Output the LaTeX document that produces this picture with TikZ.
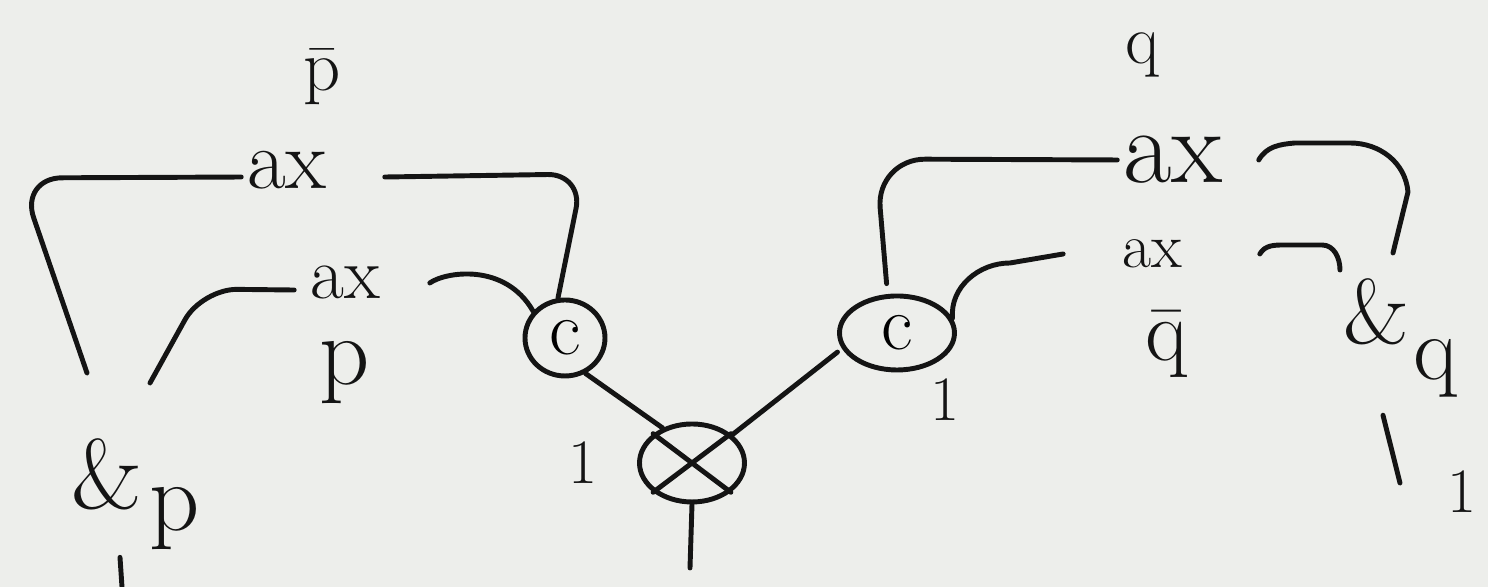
\documentclass[tikz,border=0pt]{standalone}
\usetikzlibrary{positioning, shapes.geometric, calc}
\definecolor{paper}{HTML}{EDEEEB}
\definecolor{ink}{HTML}{141414}

\begin{document}
\begin{tikzpicture}[
  x=1cm, y=1cm,
  line width=1.4pt, line cap=round, line join=round,
  wire/.style = {draw=ink, line width=1.4pt},
  lbl/.style  = {text=ink, inner sep=1pt, anchor=center,
                 font=\fontsize{24}{28}\selectfont},
  ctr/.style  = {draw=ink, line width=1.4pt, ellipse, inner sep=0pt,
                 font=\fontsize{22}{26}\selectfont},
  tns/.style  = {draw=ink, line width=1.4pt, ellipse, inner sep=0pt,
                 minimum width=1.05cm, minimum height=0.78cm},
  one/.style  = {text=ink, inner sep=1pt, font=\fontsize{18}{22}\selectfont}
]
\fill[paper] (0,0) rectangle (14.88,5.87);
\useasboundingbox (0,0) rectangle (14.88,5.87);

% 左侧 p
\node[lbl, font=\fontsize{20}{24}\selectfont] (pbar) at (3.22,5.10) {$\bar{\mathrm{p}}$};
\node[lbl] (axA) at (2.87,4.17) {ax};
\node[lbl, font=\fontsize{21}{25}\selectfont] (axB) at (3.45,3.04) {ax};
\node[lbl, font=\fontsize{28}{32}\selectfont] (plbl) at (3.45,2.14) {p};
\node[lbl, font=\fontsize{28}{32}\selectfont, anchor=base west] (parP) at (0.66,0.78)
  {\&\kern2pt\raisebox{-0.5ex}{p}};

% 中间 c, c, tensor
\node[ctr, minimum width=0.80cm, minimum height=0.76cm] (c1) at (5.65,2.49) {c};
\node[tns] (tns) at (6.92,1.24) {};
\node[one] (one1) at (5.83,1.24) {1};
\node[ctr, minimum width=1.15cm, minimum height=0.74cm] (c2) at (8.97,2.54) {c};
\node[one] (one2) at (9.45,1.87) {1};

% 右侧 q
\node[lbl, font=\fontsize{20}{24}\selectfont] (qlbl) at (11.43,5.32) {q};
\node[lbl, font=\fontsize{30}{34}\selectfont] (axC) at (11.73,4.27) {ax};
\node[lbl, font=\fontsize{18}{22}\selectfont] (axD) at (11.52,3.33) {ax};
\node[lbl, font=\fontsize{24}{28}\selectfont] (qbar) at (11.67,2.42) {$\bar{\mathrm{q}}$};
\node[lbl, font=\fontsize{26}{30}\selectfont, anchor=base west] (parQ) at (13.38,2.43)
  {\&\kern1pt\raisebox{-0.9ex}{q}};
\node[one] (one3) at (14.62,0.95) {1};

% 自由端
\coordinate (pA) at (0.87,2.14);
\coordinate (pB) at (1.50,2.04);
\coordinate (pD) at (1.22,0.0);
\coordinate (tD) at (6.90,0.19);
\coordinate (qA) at (13.93,3.34);
\coordinate (qB) at (13.40,3.17);
\coordinate (qD) at (14.00,1.04);

% tensor 的叉
\draw[wire] (tns.north west) -- (tns.south east)
            (tns.north east) -- (tns.south west);

% 左侧连线
\draw[wire, rounded corners=12pt] ([yshift=-2pt]axA.west) -- (0.20,4.09) -- (pA);
\draw[wire, rounded corners=10pt] ([xshift=0.52cm,yshift=-2pt]axA.east) -- (5.83,4.13) -- (c1.100);
\draw[wire, rounded corners=10pt] ([xshift=-0.1cm,yshift=-2pt]axB.west) -- (2.02,2.98) -- (pB);
\draw[wire] ([xshift=0.44cm]axB.east) .. controls (4.45,3.15) and (5.05,3.25) .. (c1.140);
\draw[wire] ($(parP.south west)+(0.54,-0.02)$) -- (pD);

% 中间连线
\draw[wire] (c1.300) -- (tns.130);
\draw[wire] (tns.35) -- ([xshift=-2pt]c2.200);
\draw[wire] (tns.south) -- (tD);

% 右侧连线
\draw[wire, rounded corners=14pt] (axC.west) -- (8.76,4.28) -- ([yshift=3pt]c2.105);
\draw[wire] ([xshift=0.3cm]axC.east) to[out=60,in=185] (12.95,4.44) -- (13.5,4.44)
  to[out=0,in=95] (14.08,3.95) -- (qA);
\draw[wire] ([xshift=-0.53cm]axD.west) -- (10.10,3.24) to[out=180,in=95] (c2.15);
\draw[wire] ([xshift=0.72cm]axD.east) to[out=60,in=180] (12.85,3.42) -- (13.22,3.42)
  to[out=0,in=90] (qB);
\draw[wire] ($(parQ.south west)+(0.45,-0.12)$) -- (qD);

\end{tikzpicture}
\end{document}
